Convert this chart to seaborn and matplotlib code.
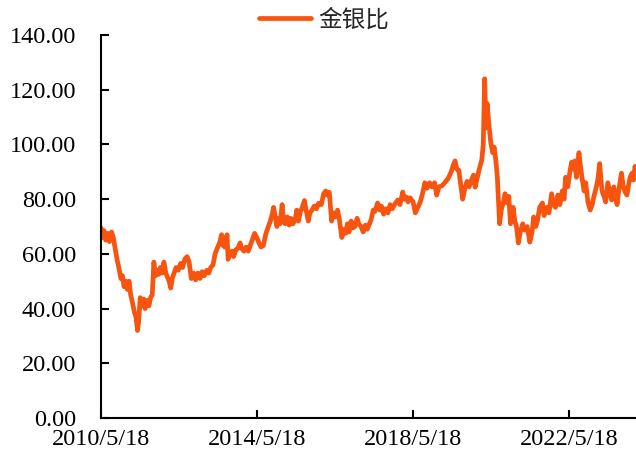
import pandas as pd
import matplotlib.pyplot as plt
import seaborn as sns

# gold/silver ratio
dates = [
    '2010-05-18', '2010-06-01', '2010-06-15', '2010-07-01', '2010-07-20', '2010-08-05',
    '2010-08-25', '2010-09-10', '2010-09-28', '2010-10-15', '2010-11-01', '2010-11-20',
    '2010-12-05', '2010-12-20', '2011-01-05', '2011-01-20', '2011-02-05', '2011-02-20',
    '2011-03-10', '2011-03-25', '2011-04-10', '2011-04-25', '2011-05-05', '2011-05-20',
    '2011-06-05', '2011-06-20', '2011-07-05', '2011-07-25', '2011-08-10', '2011-08-25',
    '2011-09-10', '2011-09-25', '2011-10-10', '2011-10-25', '2011-11-10', '2011-11-25',
    '2011-12-10', '2011-12-28', '2012-01-15', '2012-01-30', '2012-02-15', '2012-03-01',
    '2012-03-15', '2012-04-01', '2012-04-20', '2012-05-10', '2012-06-01', '2012-06-20',
    '2012-07-10', '2012-08-01', '2012-08-20', '2012-09-10', '2012-10-01', '2012-10-20',
    '2012-11-10', '2012-12-01', '2012-12-20', '2013-01-10', '2013-02-01', '2013-02-20',
    '2013-03-10', '2013-04-01', '2013-04-20', '2013-05-10', '2013-06-01', '2013-06-20',
    '2013-07-05', '2013-07-20', '2013-08-10', '2013-08-20', '2013-09-05', '2013-09-25',
    '2013-10-10', '2013-11-01', '2013-11-20', '2013-12-10', '2013-12-25', '2014-01-15',
    '2014-02-05', '2014-02-25', '2014-03-15', '2014-04-01', '2014-04-25', '2014-05-15',
    '2014-06-05', '2014-06-25', '2014-07-15', '2014-08-10', '2014-09-01', '2014-09-20',
    '2014-10-10', '2014-10-20', '2014-11-05', '2014-11-20', '2014-12-05', '2014-12-20',
    '2015-01-08', '2015-01-20', '2015-02-05', '2015-02-25', '2015-03-15', '2015-04-01',
    '2015-04-20', '2015-05-10', '2015-05-25', '2015-06-10', '2015-06-25', '2015-07-15',
    '2015-08-05', '2015-08-20', '2015-09-10', '2015-09-25', '2015-10-15', '2015-11-05',
    '2015-11-25', '2015-12-15', '2016-01-10', '2016-02-01', '2016-02-20', '2016-03-05',
    '2016-03-25', '2016-04-15', '2016-05-01', '2016-05-20', '2016-06-10', '2016-06-25',
    '2016-07-20', '2016-08-10', '2016-08-25', '2016-09-10', '2016-09-25', '2016-10-15',
    '2016-11-01', '2016-11-20', '2016-12-10', '2016-12-25', '2017-01-15', '2017-02-05',
    '2017-02-25', '2017-03-15', '2017-04-05', '2017-04-20', '2017-05-10', '2017-05-25',
    '2017-06-20', '2017-07-10', '2017-07-25', '2017-08-15', '2017-09-05', '2017-09-25',
    '2017-10-15', '2017-11-05', '2017-11-25', '2017-12-25', '2018-01-15', '2018-02-10',
    '2018-02-25', '2018-03-15', '2018-04-01', '2018-04-20', '2018-05-18', '2018-06-08',
    '2018-07-01', '2018-07-25', '2018-08-20', '2018-09-05', '2018-09-25', '2018-10-20',
    '2018-11-10', '2018-12-05', '2018-12-25', '2019-01-15', '2019-02-15', '2019-03-10',
    '2019-04-10', '2019-05-10', '2019-05-25', '2019-06-15', '2019-07-01', '2019-07-20',
    '2019-08-25', '2019-09-15', '2019-10-05', '2019-10-25', '2019-11-15', '2019-12-05',
    '2019-12-20', '2020-01-10', '2020-01-25', '2020-02-20', '2020-03-05', '2020-03-18',
    '2020-03-30', '2020-04-10', '2020-04-25', '2020-05-15', '2020-06-01', '2020-06-15',
    '2020-07-01', '2020-07-15', '2020-08-05', '2020-08-20', '2020-09-10', '2020-09-25',
    '2020-10-15', '2020-10-30', '2020-11-15', '2020-12-10', '2020-12-25', '2021-01-10',
    '2021-01-28', '2021-02-15', '2021-03-10', '2021-03-25', '2021-04-20', '2021-05-15',
    '2021-06-05', '2021-06-20', '2021-07-10', '2021-07-25', '2021-08-15', '2021-09-10',
    '2021-09-25', '2021-10-20', '2021-11-10', '2021-12-05', '2021-12-20', '2022-01-10',
    '2022-02-01', '2022-02-20', '2022-03-15', '2022-04-01', '2022-04-15', '2022-05-05',
    '2022-05-25', '2022-06-10', '2022-06-25', '2022-07-10', '2022-07-25', '2022-08-05',
    '2022-08-18', '2022-09-01', '2022-09-15', '2022-10-05', '2022-10-20', '2022-11-10',
    '2022-12-01', '2022-12-20', '2023-01-05', '2023-01-25', '2023-02-10', '2023-02-28',
    '2023-03-10', '2023-03-22', '2023-04-10', '2023-04-25', '2023-05-15', '2023-06-01',
    '2023-06-20', '2023-07-10', '2023-07-25', '2023-08-10', '2023-08-25', '2023-09-20',
    '2023-10-05', '2023-10-20', '2023-11-10', '2023-11-25', '2023-12-10', '2023-12-28',
    '2024-01-10', '2024-01-25', '2024-02-03',
]
ratio = [
    69.5, 66, 68.5, 65, 67.5, 64.5,
    68, 66, 62, 58, 55, 51,
    52, 48, 50, 47, 50, 45,
    42, 39, 37, 32, 35, 44,
    41, 43.5, 40, 43, 41, 44,
    45, 57, 52, 54, 52.5, 55,
    53, 57, 53, 51.5, 50, 47.5,
    51, 53, 55, 54, 56.5, 55,
    58, 59, 57, 51, 53, 50.5,
    53, 51, 53.5, 52, 54, 53,
    55, 56, 60, 62, 64, 67,
    63, 62.5, 67, 58, 60, 61,
    59, 61.5, 62, 64, 62, 61,
    62.5, 61, 63, 65, 67.5, 66,
    64, 62.5, 63, 67.5, 70, 72,
    75, 77, 73.5, 70, 73, 71,
    78, 72, 71, 73.5, 70.5, 73,
    71, 72.5, 76, 72, 75, 77,
    79.5, 76, 72, 75, 76, 77.5,
    76.5, 78.5, 78, 82, 83, 81.5,
    82.5, 72, 75, 73.5, 76, 73,
    66, 69, 67.5, 71, 68, 72,
    69.5, 70, 73, 71, 70, 68,
    70.5, 69, 71, 72.5, 76, 75.5,
    78.6, 76, 77.5, 74.5, 76.5, 75,
    78, 76.5, 78, 79.7, 78, 82.6,
    80, 80.8, 79, 80.5, 79, 75,
    77, 79, 83, 86, 84, 86,
    84.5, 86, 81.5, 84.5, 85, 86,
    87.5, 90, 92, 94, 91, 90.6,
    80, 84, 86.5, 84.5, 87, 88.8,
    84.4, 88, 90.6, 94.3, 100, 124,
    106, 115, 108, 100.5, 97, 99,
    94, 88, 71, 76, 79, 82,
    78.6, 81, 71, 77, 72, 70,
    64, 68, 71, 68.7, 70, 64.3,
    68, 73.5, 70, 72, 77, 78.6,
    74, 77, 75, 82, 78, 77,
    81.5, 78, 83, 80, 88, 84.5,
    90, 93.5, 91, 94, 88, 92,
    97, 92, 88, 83, 86, 79,
    76, 78, 81, 84, 87, 93,
    88, 83, 81, 79, 86, 83,
    79.7, 84.5, 81, 78, 83, 89.5,
    85, 83, 81.5, 85, 88, 89.5,
    87, 92, 90,
]

tick_dates = ['2010-05-18', '2014-05-18', '2018-05-18', '2022-05-18']
tick_labels = ['2010/5/18', '2014/5/18', '2018/5/18', '2022/5/18']
y_ticks = [0, 20, 40, 60, 80, 100, 120, 140]

df = pd.DataFrame({'date': pd.to_datetime(dates), 'ratio': ratio})

sns.set_style('ticks')
plt.rcParams['font.family'] = ['Liberation Serif', 'Noto Sans CJK SC']

fig = plt.figure(figsize=(6.36, 4.59), dpi=100)
ax = fig.add_axes([0.1588, 0.0893, 0.8412, 0.8344])

sns.lineplot(data=df, x='date', y='ratio', ax=ax, color='#F7540F', lw=3.4, label='金银比')

ax.set_xlim(pd.Timestamp('2010-05-18'), pd.Timestamp('2024-02-03'))
ax.set_ylim(0, 140)
ax.set_xticks(pd.to_datetime(tick_dates))
ax.set_xticklabels(tick_labels)
ax.set_yticks(y_ticks)
ax.set_yticklabels([f'{v:.2f}' for v in y_ticks])
ax.set_xlabel('')
ax.set_ylabel('')

ax.tick_params(axis='both', direction='in', length=6, width=1.5, labelsize=17.5, colors='black')
ax.tick_params(axis='y', pad=18)
ax.tick_params(axis='x', pad=8)
for s in ['top', 'right']:
    ax.spines[s].set_visible(False)
for s in ['left', 'bottom']:
    ax.spines[s].set_linewidth(1.5)
    ax.spines[s].set_color('black')

ax.legend(loc='center', bbox_to_anchor=(0.51, 0.956), bbox_transform=fig.transFigure,
          frameon=False, handlelength=2.2, handletextpad=0.3,
          prop={'family': ['Noto Sans CJK SC'], 'size': 17})

fig.savefig('out.png', dpi=100)
